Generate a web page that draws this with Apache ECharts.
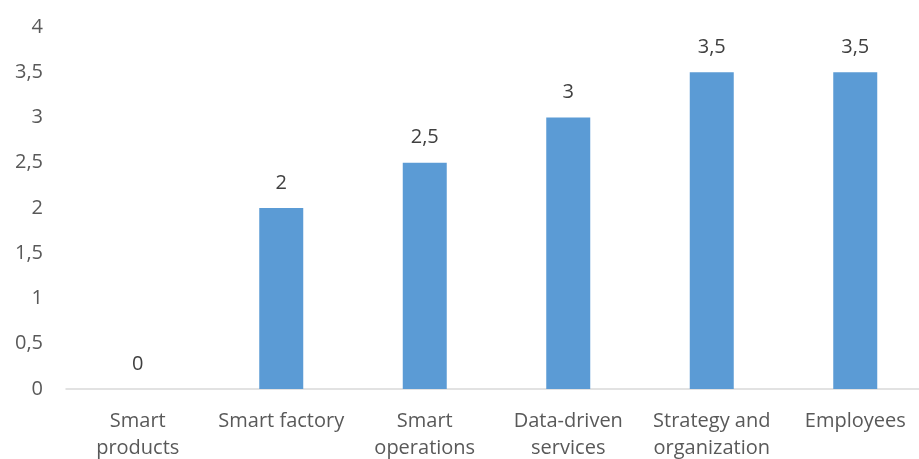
<!DOCTYPE html>
<html>
<head>
<meta charset="utf-8">
<script src="https://cdn.jsdelivr.net/npm/echarts@6/dist/echarts.min.js"></script>
<style>html,body{margin:0;padding:0;background:#fff}#c{width:919px;height:459px}</style>
</head>
<body>
<div id="c"></div>
<script>
var categories = ["Smart\nproducts", "Smart factory", "Smart\noperations", "Data-driven\nservices", "Strategy and\norganization", "Employees"];
var values = [0, 2, 2.5, 3, 3.5, 3.5];
var yTicks = [0, 0.5, 1, 1.5, 2, 2.5, 3, 3.5, 4];

function fmt(v){ return String(v).replace('.', ','); }

var chart = echarts.init(document.getElementById('c'));
chart.setOption({
  animation: false,
  grid: { left: 66, top: 27, width: 861, height: 362, outerBoundsMode: 'none', containLabel: false },
  xAxis: {
    type: 'category',
    data: categories,
    axisLine: { lineStyle: { color: '#d9d9d9', width: 1.5 } },
    axisTick: { show: false },
    axisLabel: { color: '#595959', fontSize: 20, fontFamily: 'Open Sans', margin: 19, lineHeight: 27, interval: 0 }
  },
  yAxis: {
    type: 'value',
    min: yTicks[0],
    max: yTicks[yTicks.length - 1],
    interval: 0.5,
    splitLine: { show: false },
    axisLine: { show: false },
    axisTick: { show: false },
    axisLabel: { color: '#595959', fontSize: 20, fontFamily: 'Open Sans', margin: 23, formatter: fmt }
  },
  series: [{
    type: 'bar',
    data: values,
    barWidth: 44,
    itemStyle: { color: '#5b9bd5' },
    label: { show: true, position: 'top', distance: 15, color: '#404040', fontSize: 20, fontFamily: 'Open Sans', formatter: function(p){ return fmt(p.value); } }
  }]
});
</script>
</body>
</html>
